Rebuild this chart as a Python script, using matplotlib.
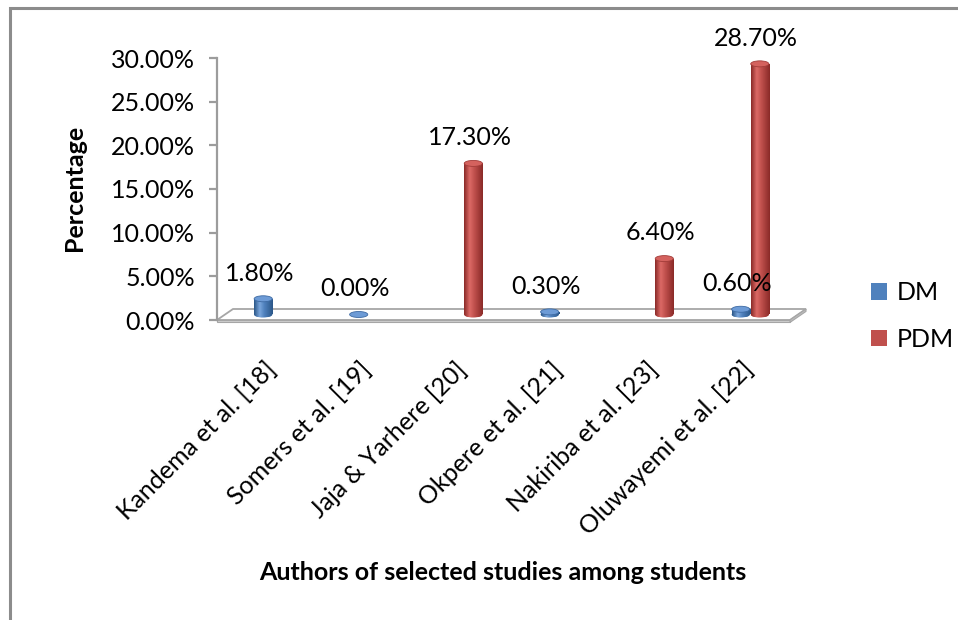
import matplotlib
matplotlib.use("Agg")
import matplotlib.pyplot as plt
import numpy as np
from matplotlib.patches import Ellipse, Polygon, Rectangle, Patch
from matplotlib.transforms import ScaledTranslation
from matplotlib.colors import LinearSegmentedColormap

plt.rcParams['font.family'] = ['Lato', 'DejaVu Sans']

# ---- data ----
categories = ["Kandema et al. [18]", "Somers et al. [19]", "Jaja & Yarhere [20]",
              "Okpere et al. [21]", "Nakiriba et al. [23]", "Oluwayemi et al. [22]"]
dm_values = [1.80, 0.00, None, 0.30, None, 0.60]
pdm_values = [None, None, 17.30, None, 6.40, 28.70]
y_ticks = [0, 5, 10, 15, 20, 25, 30]
series_names = ["DM", "PDM"]

FS = 18
W, H = 958, 620
fig = plt.figure(figsize=(W / 100, H / 100), dpi=100)

# plot region in pixels
ax_left, ax_right = 217, 790
ax_top, ax_bottom = 58, 320
ax = fig.add_axes([ax_left / W, 1 - ax_bottom / H,
                   (ax_right - ax_left) / W, (ax_bottom - ax_top) / H])
ax.set_xlim(-0.5, 5.5)
ax.set_ylim(0, 30)
ax.set_facecolor('none')

for s in ['top', 'right', 'bottom']:
    ax.spines[s].set_visible(False)
ax.spines['left'].set_color('#9c9c9c')
ax.spines['left'].set_linewidth(1.6)

ax.set_yticks(y_ticks)
ax.set_yticklabels([f"{v:.2f}%" for v in y_ticks], fontsize=FS)
ax.tick_params(axis='y', length=6, width=1.6, color='#9c9c9c', pad=10)
ax.set_xticks([])

# depth offsets (perspective) in pixels
px_per_unit = (ax_right - ax_left) / 6.0
px_per_pct = (ax_bottom - ax_top) / 30.0
depth_dx, depth_dy = 16, 11

# floor plate
ddx = depth_dx / px_per_unit
ddy = depth_dy / px_per_pct
slab = 2.4 / px_per_pct
floor = Polygon([(-0.5, 0), (5.5, 0), (5.5 + ddx, ddy), (-0.5 + ddx, ddy)],
                closed=True, facecolor='white', edgecolor='#a6a6a6', lw=1.3,
                clip_on=False, zorder=1)
ax.add_patch(floor)
front = Polygon([(-0.5, 0), (5.5, 0), (5.5, -slab), (-0.5, -slab)], closed=True,
                facecolor='#cfcfcf', edgecolor='#a6a6a6', lw=0.8, clip_on=False, zorder=1)
side = Polygon([(5.5, 0), (5.5 + ddx, ddy), (5.5 + ddx, ddy - slab), (5.5, -slab)],
               closed=True, facecolor='#bdbdbd', edgecolor='#a6a6a6', lw=0.8,
               clip_on=False, zorder=1)
ax.add_patch(front)
ax.add_patch(side)

# bars stand in the middle of the floor depth
bar_shift = ax.transData + ScaledTranslation(depth_dx / 2 / 100, depth_dy / 2 / 100,
                                             fig.dpi_scale_trans)

bar_w = 0.19
ell_h = 6.0 / px_per_pct

palettes = {
    "DM": dict(base='#4f81bd', dark='#2b5788', light='#7aa6dc', top='#6d9bd6', rim='#3d6aa3'),
    "PDM": dict(base='#c0504d', dark='#8a2a28', light='#dc6a66', top='#d4625e', rim='#a23c39'),
}


def shade_cmap(p):
    return LinearSegmentedColormap.from_list(
        'cyl', [(0, p['dark']), (0.3, p['light']), (0.55, p['base']), (1, p['dark'])])


def cylinder(x, h, p, z):
    cm = shade_cmap(p)
    grad = np.linspace(0, 1, 64).reshape(1, -1)
    if h > 0:
        bars = ax.bar([x], [h], width=bar_w, bottom=0, color=p['base'], zorder=z,
                      clip_on=False)
        rect = bars.patches[0]
        rect.set_transform(bar_shift)
        im = ax.imshow(grad, cmap=cm, aspect='auto', extent=(x - bar_w / 2, x + bar_w / 2, 0, h),
                       transform=bar_shift, zorder=z + 0.1, interpolation='bilinear')
        im.set_clip_path(rect)
        # rounded base of the cylinder
        base_cover = Ellipse((x, 0), bar_w, ell_h, transform=bar_shift,
                             facecolor=p['base'], edgecolor='none', zorder=z + 0.05, clip_on=False)
        ax.add_patch(base_cover)
        grad_b = ax.imshow(grad, cmap=cm, aspect='auto',
                           extent=(x - bar_w / 2, x + bar_w / 2, -ell_h / 2, ell_h / 2),
                           transform=bar_shift, zorder=z + 0.1, interpolation='bilinear')
        grad_b.set_clip_path(base_cover)
    top = Ellipse((x, h), bar_w, ell_h, transform=bar_shift, facecolor=p['top'],
                  edgecolor=p['rim'], lw=0.6, zorder=z + 0.2, clip_on=False)
    ax.add_patch(top)


xs = np.arange(len(categories))
offset = 0.1
for i, (d, q) in enumerate(zip(dm_values, pdm_values)):
    if d is not None:
        cylinder(xs[i] - offset, d, palettes["DM"], 3)
    if q is not None:
        cylinder(xs[i] + offset, q, palettes["PDM"], 4)

# value labels
for i, (d, q) in enumerate(zip(dm_values, pdm_values)):
    for v, dx in ((d, -offset), (q, offset)):
        if v is None:
            continue
        ax.annotate(f"{v:.2f}%", xy=(xs[i] + dx, v), xycoords='data',
                    xytext=(3.0, 22.5), textcoords='offset points',
                    ha='center', va='center', fontsize=FS, zorder=6,
                    annotation_clip=False)

# category labels
for i, name in enumerate(categories):
    ax.annotate(name, xy=(xs[i] - 0.01, 0), xycoords=('data', 'axes fraction'),
                xytext=(0, -27), textcoords='offset points',
                ha='right', va='top', rotation=45, rotation_mode='anchor',
                fontsize=FS, annotation_clip=False)

# axis titles
fig.text(75 / W, 1 - 188 / H, "Percentage", rotation=90, ha='center', va='center',
         fontsize=FS, fontweight='bold')
fig.text(503 / W, 1 - 572 / H, "Authors of selected studies among students",
         ha='center', va='center', fontsize=FS, fontweight='bold')

# legend
handles = [Patch(facecolor=palettes[n]['base'], edgecolor='none') for n in series_names]
fig.legend(handles, series_names, loc='center left',
           bbox_to_anchor=(848 / W, 1 - 316 / H), frameon=False, fontsize=FS,
           handlelength=0.65, handleheight=0.65, handletextpad=0.4, labelspacing=0.95)

# chart frame
fig.patches.append(Rectangle((10 / W, -0.05), 1.1, 1 - 8 / H + 0.05,
                             transform=fig.transFigure, facecolor='none',
                             edgecolor='#8c8c8c', lw=2.2, zorder=0))

fig.savefig("out.png", dpi=100, facecolor='white')
